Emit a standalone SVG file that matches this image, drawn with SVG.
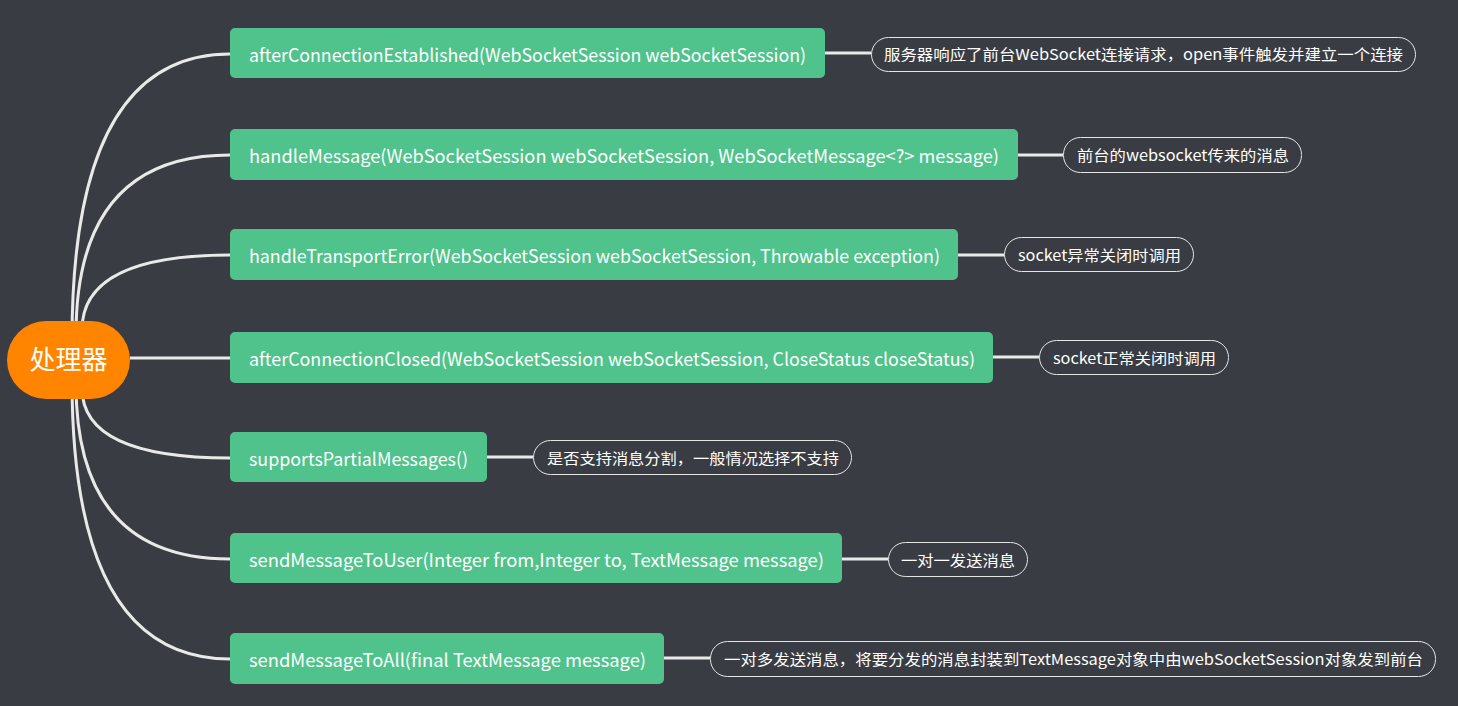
<svg xmlns="http://www.w3.org/2000/svg" width="1458" height="706" viewBox="0 0 1458 706">
<style>
.bg{fill:#393c42}
.box{fill:#4fc38b}
.bt{fill:#ffffff;font-family:"Microsoft YaHei","Noto Sans CJK SC","Noto Sans",sans-serif;font-size:18px}
.note{fill:none;stroke:#e6e6e6;stroke-width:1}
.nt{fill:#ffffff;font-family:"Microsoft YaHei","Noto Sans CJK SC","Noto Sans",sans-serif;font-size:15px}
.ln{fill:none;stroke:#e9e9e9;stroke-width:3}
</style>
<rect class="bg" x="0" y="0" width="1458" height="706"/>
<g id="connectors">
<path class="ln" d="M72,340 Q72,54 230,54"/>
<path class="ln" d="M76,335 Q76,155 230,155"/>
<path class="ln" d="M82,330 Q82,255 230,255"/>
<path class="ln" d="M130,358 L230,358"/>
<path class="ln" d="M82,388 Q82,458 230,458"/>
<path class="ln" d="M76,384 Q76,559 230,559"/>
<path class="ln" d="M72,380 Q72,659 230,659"/>
<path class="ln" d="M825,53 L871,53"/>
<path class="ln" d="M1018,155 L1063,155"/>
<path class="ln" d="M958,255 L1004,255"/>
<path class="ln" d="M993,357 L1039,357"/>
<path class="ln" d="M487,457 L533,457"/>
<path class="ln" d="M842,559 L888,559"/>
<path class="ln" d="M664,658 L710,658"/>
</g>
<g id="root">
<rect x="7" y="321" width="123" height="78" rx="39" fill="#ff8400"/>
<text x="68.5" y="369" text-anchor="middle" fill="#ffffff" font-family="Microsoft YaHei,Noto Sans CJK SC,sans-serif" font-size="26">处理器</text>
</g>
<g id="n1">
<rect class="box" x="230" y="28" width="595" height="50" rx="5"/>
<text class="bt" x="249" y="62" textLength="557" lengthAdjust="spacingAndGlyphs">afterConnectionEstablished(WebSocketSession webSocketSession)</text>
</g>
<g id="n2">
<rect class="box" x="230" y="129" width="788" height="51" rx="5"/>
<text class="bt" x="249" y="163" textLength="750" lengthAdjust="spacingAndGlyphs">handleMessage(WebSocketSession webSocketSession, WebSocketMessage&lt;?&gt; message)</text>
</g>
<g id="n3">
<rect class="box" x="230" y="229" width="728" height="51" rx="5"/>
<text class="bt" x="249" y="263" textLength="691" lengthAdjust="spacingAndGlyphs">handleTransportError(WebSocketSession webSocketSession, Throwable exception)</text>
</g>
<g id="n4">
<rect class="box" x="230" y="332" width="763" height="51" rx="5"/>
<text class="bt" x="249" y="366" textLength="726" lengthAdjust="spacingAndGlyphs">afterConnectionClosed(WebSocketSession webSocketSession, CloseStatus closeStatus)</text>
</g>
<g id="n5">
<rect class="box" x="230" y="432" width="257" height="50" rx="5"/>
<text class="bt" x="249" y="466" textLength="219" lengthAdjust="spacingAndGlyphs">supportsPartialMessages()</text>
</g>
<g id="n6">
<rect class="box" x="230" y="533" width="612" height="50" rx="5"/>
<text class="bt" x="249" y="567" textLength="575" lengthAdjust="spacingAndGlyphs">sendMessageToUser(Integer from,Integer to, TextMessage message)</text>
</g>
<g id="n7">
<rect class="box" x="230" y="633" width="434" height="51" rx="5"/>
<text class="bt" x="249" y="667" textLength="397" lengthAdjust="spacingAndGlyphs">sendMessageToAll(final TextMessage message)</text>
</g>
<g id="note1">
<rect class="note" x="871.5" y="37.5" width="544" height="34" rx="17"/>
<text class="nt" x="884" y="60" textLength="519" lengthAdjust="spacingAndGlyphs">服务器响应了前台WebSocket连接请求，open事件触发并建立一个连接</text>
</g>
<g id="note2">
<rect class="note" x="1063.5" y="137.5" width="238" height="35" rx="17"/>
<text class="nt" x="1077" y="161" textLength="212" lengthAdjust="spacingAndGlyphs">前台的websocket传来的消息</text>
</g>
<g id="note3">
<rect class="note" x="1004.5" y="237.5" width="189" height="34" rx="17"/>
<text class="nt" x="1018" y="261" textLength="163" lengthAdjust="spacingAndGlyphs">socket异常关闭时调用</text>
</g>
<g id="note4">
<rect class="note" x="1039.5" y="340.5" width="189" height="34" rx="17"/>
<text class="nt" x="1053" y="364" textLength="163" lengthAdjust="spacingAndGlyphs">socket正常关闭时调用</text>
</g>
<g id="note5">
<rect class="note" x="533.5" y="440.5" width="318" height="34" rx="17"/>
<text class="nt" x="547" y="464" textLength="292" lengthAdjust="spacingAndGlyphs">是否支持消息分割，一般情况选择不支持</text>
</g>
<g id="note6">
<rect class="note" x="888.5" y="542.5" width="139" height="34" rx="17"/>
<text class="nt" x="901" y="566" textLength="114" lengthAdjust="spacingAndGlyphs">一对一发送消息</text>
</g>
<g id="note7">
<rect class="note" x="710.5" y="641.5" width="725" height="35" rx="17"/>
<text class="nt" x="724" y="665" textLength="699" lengthAdjust="spacingAndGlyphs">一对多发送消息，将要分发的消息封装到TextMessage对象中由webSocketSession对象发到前台</text>
</g>
</svg>
